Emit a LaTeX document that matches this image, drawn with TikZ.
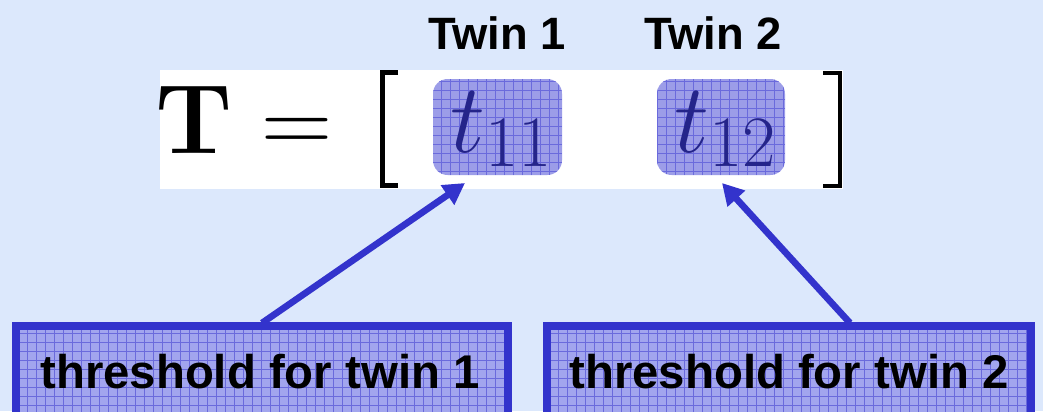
\documentclass[tikz,border=0pt]{standalone}
\usepackage[no-math]{fontspec}
\newfontfamily\sansf{Liberation Sans}
\usetikzlibrary{arrows.meta}
\definecolor{bgc}{HTML}{DCE8FC}
\definecolor{boxfill}{HTML}{A2A5EE}
\definecolor{gridc}{HTML}{6A6ADC}
\definecolor{edgec}{HTML}{3333CC}
\definecolor{tfill}{HTML}{9C9DE8}
\definecolor{tink}{HTML}{24248A}
\newcommand{\bigmath}[1]{\scalebox{2.974}{\Huge$#1$}}
\newcommand{\subsc}[1]{\scalebox{0.88}{$\scriptstyle #1$}}
\tikzset{
  gridfill/.style={fill=#1, path picture={\draw[gridc, line width=0.4pt, step=6.75pt]
      (path picture bounding box.south west) grid (path picture bounding box.north east);}},
  head/.style={font=\sansf\bfseries\fontsize{34}{40}\selectfont, inner sep=0pt},
  boxtext/.style={font=\sansf\bfseries\fontsize{35.5}{40}\selectfont, inner sep=0pt},
  mathbig/.style={inner sep=0pt, anchor=base},
  tbox/.style={gridfill=tfill, rounded corners=11pt, draw=none},
  brk/.style={black, line width=3.4pt},
  conn/.style={edgec, line width=5pt, -{Triangle[length=16pt,width=17pt]}},
  thrbox/.style={draw=edgec, line width=6pt, gridfill=boxfill}
}
\begin{document}
\begin{tikzpicture}[x=0.75pt,y=-0.75pt]
\useasboundingbox (0,0) rectangle (1043,411);
\fill[bgc] (0,0) rectangle (1043,411);
\fill[white] (160,70) rectangle (843,188.5);
% headings
\node[head] (tw1) at (497,33) {Twin 1};
\node[head] (tw2) at (713,33) {Twin 2};
% equation
\node[mathbig] (T) at (194,153) {\bigmath{\mathbf{T}}};
\node[mathbig] (eq) at (297,153) {\bigmath{=}};
\draw[brk] (398,72.5) -- (382.5,72.5) -- (382.5,185.5) -- (398,185.5);
\draw[brk] (823,73) -- (840,73) -- (840,186) -- (823,186);
% t boxes
\path[tbox] (433,79) rectangle (562,175);
\path[tbox] (657,79) rectangle (785,175);
\node[mathbig, text=tink] (t11) at (502,152) {\bigmath{t_{\subsc{11}}}};
\node[mathbig, text=tink] (t12) at (726,152) {\bigmath{t_{\subsc{12}}}};
\coordinate (a1) at (465,183);
\coordinate (a2) at (722,183);
% bottom boxes
\path[thrbox] (16,326) rectangle (508,420);
\path[thrbox] (547,326) rectangle (1031,420);
\node[boxtext] (b1) at (260,372) {threshold for twin 1};
\node[boxtext] (b2) at (789,372) {threshold for twin 2};
\coordinate (s1) at (262,323);
\coordinate (s2) at (850,323);
\draw[conn] (s1) -- (a1);
\draw[conn] (s2) -- (a2);
\end{tikzpicture}
\end{document}
